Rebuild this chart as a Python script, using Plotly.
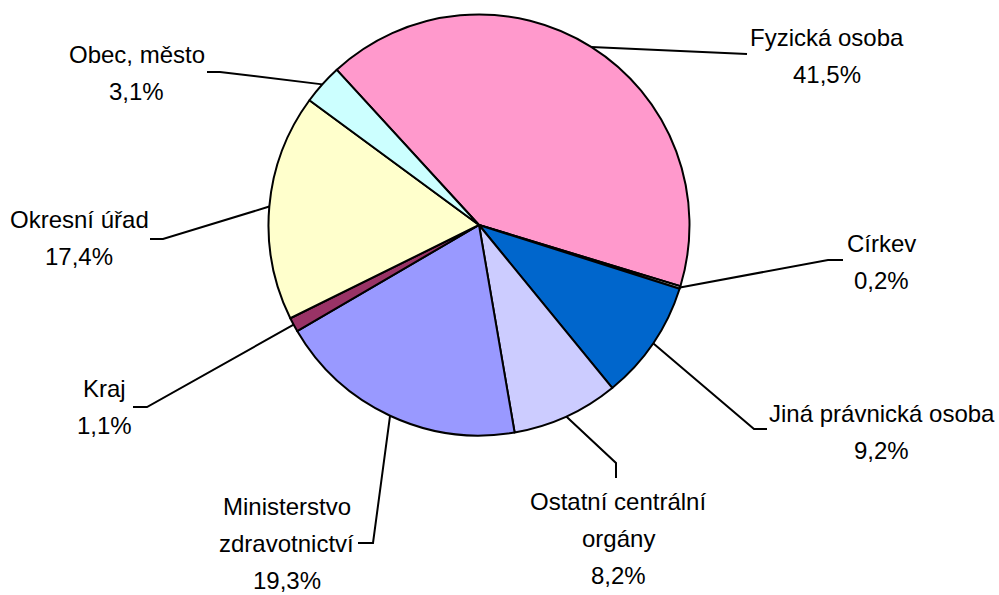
import math
import plotly.graph_objects as go

# ---- data ----
categories = ["Fyzická osoba", "Církev", "Jiná právnická osoba", "Ostatní centrální orgány",
              "Ministerstvo zdravotnictví", "Kraj", "Okresní úřad", "Obec, město"]
values = [41.5, 0.2, 9.2, 8.2, 19.3, 1.1, 17.4, 3.1]
label_lines = [["Fyzická osoba"], ["Církev"], ["Jiná právnická osoba"],
               ["Ostatní centrální", "orgány"], ["Ministerstvo", "zdravotnictví"],
               ["Kraj"], ["Okresní úřad"], ["Obec, město"]]

# ---- style / layout ----
colors = ["#FF99CC", "#FFFFFF", "#0066CC", "#CCCCFF", "#9999FF", "#993366", "#FFFFCC", "#CCFFFF"]
W, H = 999, 595
CX, CY, R = 479.0, 225.0, 210.5
ROTATION = -42.5
# label anchor: (center x, first-line baseline) in px
label_pos = [(826.7, 45.7), (881, 251.7), (881.7, 421.7), (618, 510),
             (286.5, 515), (104.5, 397.3), (79.2, 228.3), (136.7, 63.3)]
# leader-line waypoints after the slice edge point
leader_pts = [[(747, 54)], [(828, 260), (843, 260)], [(754, 429), (767, 429)],
              [(616, 463), (616, 478)], [(373, 543), (358, 543)],
              [(147, 407), (133, 407)], [(163, 239), (150, 239)], [(220, 72), (207, 72)]]
LINE_GAP = 37
FONT = "Liberation Sans, Arial, sans-serif"
FS = 24

fig = go.Figure()
fig.add_trace(go.Pie(
    labels=categories, values=values, sort=False, direction="clockwise",
    rotation=ROTATION, marker=dict(colors=colors, line=dict(color="black", width=2)),
    textinfo="none", hoverinfo="skip", showlegend=False,
    domain=dict(x=[(CX - R) / W, (CX + R) / W], y=[1 - (CY + R) / H, 1 - (CY - R) / H]),
))

total = sum(values)
cum = 0.0
annotations = []
for i, v in enumerate(values):
    mid = ROTATION + (cum + v / 2) / total * 360
    cum += v
    a = math.radians(mid)
    sx, sy = CX + R * math.sin(a), CY - R * math.cos(a)
    xs = [sx] + [p[0] for p in leader_pts[i]]
    ys = [sy] + [p[1] for p in leader_pts[i]]
    fig.add_trace(go.Scatter(x=xs, y=ys, mode="lines", line=dict(color="black", width=2),
                             hoverinfo="skip", showlegend=False))
    pct = f"{v:.1f}".replace(".", ",") + "%"
    lines = label_lines[i] + [pct]
    lx, lb = label_pos[i]
    for k, t in enumerate(lines):
        annotations.append(dict(x=lx, y=lb + k * LINE_GAP - 8.5, xref="x", yref="y", text=t,
                                showarrow=False, xanchor="center", yanchor="middle",
                                font=dict(family=FONT, size=FS, color="black")))

fig.update_layout(
    width=W, height=H, margin=dict(l=0, r=0, t=0, b=0),
    paper_bgcolor="white", plot_bgcolor="rgba(0,0,0,0)",
    xaxis=dict(range=[0, W], visible=False, fixedrange=True, domain=[0, 1]),
    yaxis=dict(range=[H, 0], visible=False, fixedrange=True, domain=[0, 1]),
    annotations=annotations,
)
fig.write_html("out.html", config={"displayModeBar": False},
               post_script="document.body.style.margin='0';document.body.style.overflow='hidden';")
